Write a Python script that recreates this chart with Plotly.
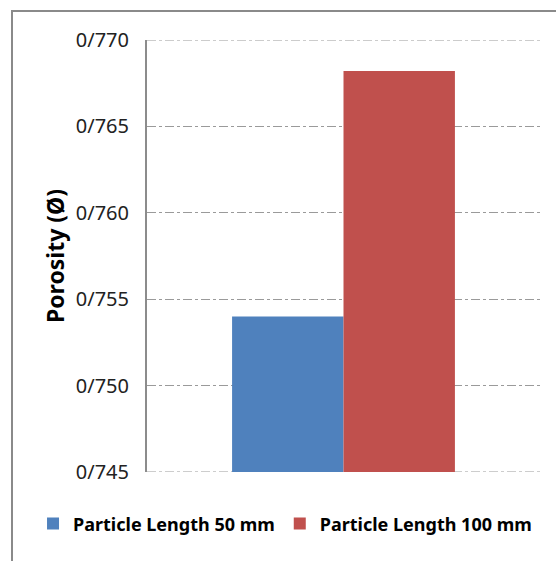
import plotly.graph_objects as go

series_names = ["Particle Length 50 mm", "Particle Length 100 mm"]
series_values = [0.7540, 0.7682]
series_colors = ["#4f81bd", "#c0504d"]
category = [""]
tick_values = [0.745, 0.750, 0.755, 0.760, 0.765, 0.770]
tick_labels = ["0/745", "0/750", "0/755", "0/760", "0/765", "0/770"]

fig = go.Figure()
for name, val, col in zip(series_names, series_values, series_colors):
    fig.add_trace(go.Bar(x=category, y=[val], name="<b>" + name + "</b>",
                         marker=dict(color=col, line=dict(width=0))))

# grid lines at the range ends (plotly omits them)
edge_lines = [dict(type="line", xref="paper", yref="y", x0=0, x1=1, y0=v, y1=v,
                   line=dict(color="#9a9a9a", width=1, dash="dashdot"), layer="below")
              for v in (tick_values[0], tick_values[-1])]

fig.update_layout(
    width=556, height=561,
    margin=dict(l=147, r=16, t=40, b=89),
    paper_bgcolor="white", plot_bgcolor="white",
    barmode="group", bargap=0.433, bargroupgap=0,
    font=dict(family="Noto Sans", color="#000000"),
    showlegend=True,
    legend=dict(orientation="h", x=-0.29, xanchor="left", y=-0.12, yanchor="middle",
                font=dict(family="Noto Sans", size=18, color="#000"),
                itemwidth=30, traceorder="normal"),
    xaxis=dict(showticklabels=False, showgrid=False, zeroline=False, showline=False, ticks=""),
    yaxis=dict(range=[0.745, 0.770], tickvals=tick_values, ticktext=tick_labels,
               tickfont=dict(family="Noto Sans", size=20, color="#222"),
               showgrid=True, gridcolor="#9a9a9a", griddash="dashdot", gridwidth=1,
               showline=True, linecolor="#8c8c8c", linewidth=2, ticks="",
               ticklabelstandoff=12, zeroline=False,
               title=dict(text="<b>Porosity (Ø)</b>", font=dict(family="Noto Sans", size=23), standoff=5)),
    shapes=[dict(type="rect", xref="paper", yref="paper", x0=-0.3435, x1=1.2, y0=-0.4, y1=1.0671,
                 line=dict(color="#8a8a8a", width=2), fillcolor="rgba(0,0,0,0)", layer="below")] + edge_lines,
)

fig.write_html("out.html")
